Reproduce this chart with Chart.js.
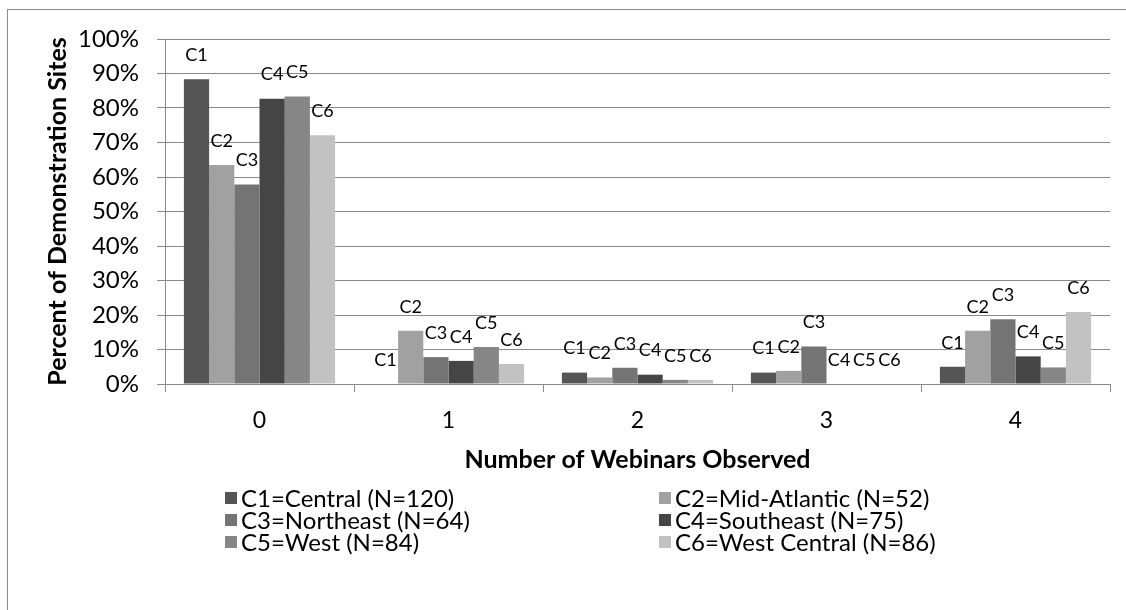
<!DOCTYPE html>
<html lang="en">
<head>
  <meta charset="UTF-8">
  <title>Webinars Observed</title>
  <script src="https://cdn.jsdelivr.net/npm/chart.js"></script>
  <style>
    html, body { margin: 0; padding: 0; background: #fff; }
    #wrap { width: 1126px; height: 610px; }
  </style>
</head>
<body>
  <div id="wrap"><canvas id="webinarChart" width="1126" height="610"></canvas></div>

  <script>
    // number of webinars observed
    const categories = ['0', '1', '2', '3', '4'];

    const shortNames = ['C1', 'C2', 'C3', 'C4', 'C5', 'C6'];
    const legendNames = [
      'C1=Central (N=120)', 'C2=Mid-Atlantic (N=52)',
      'C3=Northeast (N=64)', 'C4=Southeast (N=75)',
      'C5=West (N=84)', 'C6=West Central (N=86)'
    ];

    // percent of demonstration sites
    const c1 = [88.3, 0, 3.3, 3.3, 5.0];
    const c2 = [63.5, 15.4, 1.9, 3.8, 15.4];
    const c3 = [57.8, 7.8, 4.7, 10.9, 18.8];
    const c4 = [82.7, 6.7, 2.7, 0, 8.0];
    const c5 = [83.3, 10.7, 1.2, 0, 4.8];
    const c6 = [72.1, 5.8, 1.2, 0, 20.9];
    const seriesValues = [c1, c2, c3, c4, c5, c6];

    const yTicks = [0, 10, 20, 30, 40, 50, 60, 70, 80, 90, 100];

    const colors = ['#555555', '#a1a1a1', '#747474', '#454545', '#868686', '#c2c2c2'];
    const fontFamily = 'Lato, "Open Sans", sans-serif';

    // frame + white background
    const framePlugin = {
      id: 'frame',
      beforeDraw(chart) {
        const ctx = chart.ctx;
        ctx.save();
        ctx.fillStyle = '#fff';
        ctx.fillRect(0, 0, chart.width, chart.height);
        ctx.strokeStyle = '#8a8a8a';
        ctx.lineWidth = 1;
        ctx.strokeRect(7.5, 9.5, chart.width + 20, chart.height + 20);
        ctx.restore();
      }
    };

    // "C1".."C6" above every bar
    const barLabels = {
      id: 'barLabels',
      afterDatasetsDraw(chart) {
        const ctx = chart.ctx;
        ctx.save();
        ctx.font = '18px ' + fontFamily;
        ctx.fillStyle = '#000';
        ctx.textAlign = 'center';
        ctx.textBaseline = 'middle';
        chart.data.datasets.forEach((ds, i) => {
          chart.getDatasetMeta(i).data.forEach(bar => {
            ctx.fillText(shortNames[i], bar.x, bar.y - 24);
          });
        });
        ctx.restore();
      }
    };

    // two column legend under the axis title
    const gridLegend = {
      id: 'gridLegend',
      afterDraw(chart) {
        const ctx = chart.ctx;
        const area = chart.chartArea;
        const cols = [area.left + 60, area.left + 494];
        ctx.save();
        ctx.font = '24px ' + fontFamily;
        ctx.textBaseline = 'middle';
        ctx.textAlign = 'left';
        chart.data.datasets.forEach((ds, i) => {
          const x = cols[i % 2];
          const y = area.bottom + 114 + Math.floor(i / 2) * 22;
          ctx.fillStyle = ds.backgroundColor;
          ctx.fillRect(x, y - 6, 12, 12);
          ctx.fillStyle = '#000';
          ctx.fillText(ds.label, x + 16, y + 1);
        });
        ctx.restore();
      }
    };

    const datasets = seriesValues.map((vals, i) => ({
      label: legendNames[i],
      data: vals,
      backgroundColor: colors[i],
      borderWidth: 0,
      categoryPercentage: 0.8,
      barPercentage: 1.0
    }));

    new Chart(document.getElementById('webinarChart'), {
      type: 'bar',
      data: { labels: categories, datasets: datasets },
      options: {
        responsive: false,
        animation: false,
        devicePixelRatio: 1,
        layout: { padding: { top: 39, right: 16, left: 0, bottom: 135 } },
        plugins: {
          legend: { display: false },
          tooltip: { enabled: false }
        },
        scales: {
          x: {
            grid: {
              display: true,
              drawOnChartArea: false,
              drawTicks: true,
              tickLength: 8,
              color: '#8a8a8a'
            },
            border: { display: true, color: '#8a8a8a' },
            ticks: {
              color: '#000',
              padding: 15,
              font: { family: fontFamily, size: 23 }
            },
            title: {
              display: true,
              text: 'Number of Webinars Observed',
              color: '#000',
              padding: { top: 0, bottom: 0 },
              font: { family: fontFamily, size: 25, weight: 'bold' }
            },
            afterFit(scale) { scale.height = 91; }
          },
          y: {
            min: 0,
            max: 100,
            afterBuildTicks(scale) {
              scale.ticks = yTicks.map(v => ({ value: v }));
            },
            grid: {
              color: '#8a8a8a',
              tickLength: 8,
              drawTicks: true
            },
            border: { display: true, color: '#8a8a8a' },
            ticks: {
              color: '#000',
              padding: 18,
              font: { family: fontFamily, size: 24 },
              callback: v => v + '%'
            },
            title: {
              display: true,
              text: 'Percent of Demonstration Sites',
              color: '#000',
              padding: { top: 43, bottom: 0 },
              font: { family: fontFamily, size: 25, weight: 'bold' }
            },
            afterFit(scale) { scale.width = 165; }
          }
        }
      },
      plugins: [framePlugin, barLabels, gridLegend]
    });
  </script>
</body>
</html>
